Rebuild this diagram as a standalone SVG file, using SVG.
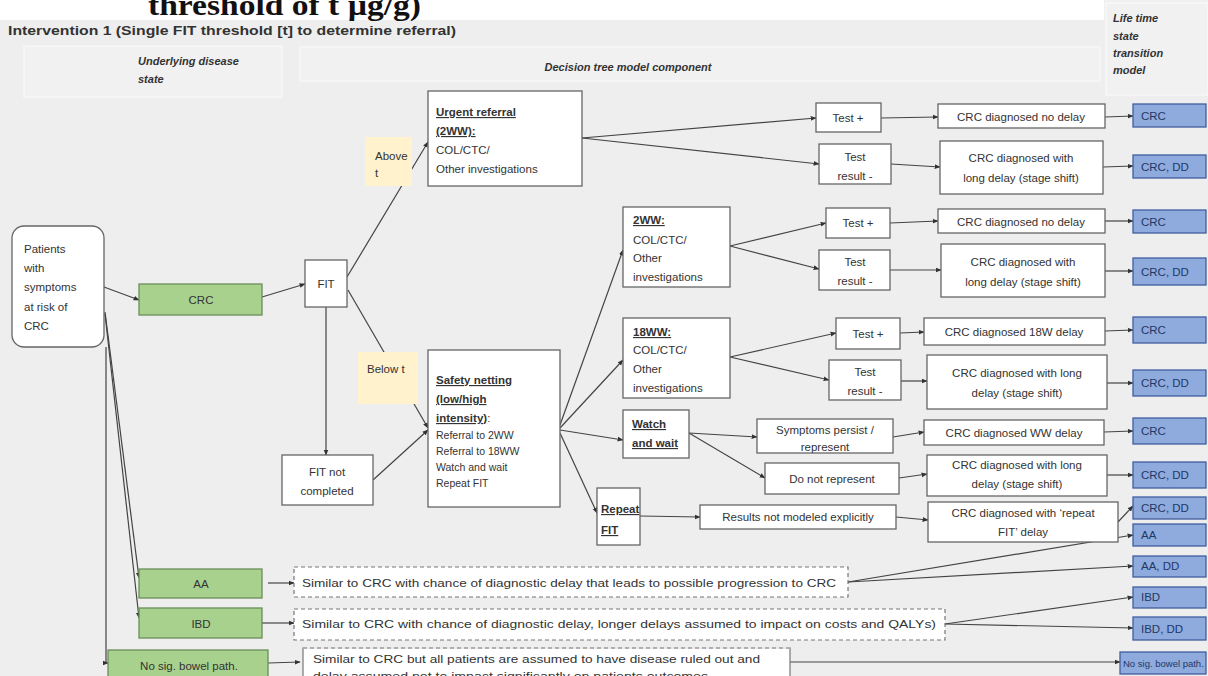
<svg xmlns="http://www.w3.org/2000/svg" width="1208" height="676" viewBox="0 0 1208 676">
<defs>
<marker id="ah" viewBox="0 0 10 10" refX="9" refY="5" markerWidth="6" markerHeight="6" orient="auto" markerUnits="userSpaceOnUse"><path d="M0,1 L10,5 L0,9 z" fill="#333"/></marker>
<style>
.t{font-family:"Liberation Sans",Arial,sans-serif;font-size:11.5px;fill:#333}
.s{font-size:10.5px}
.c{text-anchor:middle}
.b{font-weight:bold;text-decoration:underline}
.h{font-family:"Liberation Sans",Arial,sans-serif;font-size:11px;font-style:italic;font-weight:bold;fill:#333}
.box{fill:#fff;stroke:#666;stroke-width:1.3}
.dash{fill:#fff;stroke:#777;stroke-width:1.2;stroke-dasharray:4 3}
.green{fill:#a9d18e;stroke:#6b8e5a;stroke-width:1.3}
.blue{fill:#8faadc;stroke:#3f5f9f;stroke-width:1.3}
.bt{font-family:"Liberation Sans",Arial,sans-serif;font-size:11.5px;fill:#1f3864}
.yel{fill:#fff2cc}
.panel{fill:#f1f1f1;stroke:#f7f7f7;stroke-width:1.5}
.conn path{stroke:#444;stroke-width:1.2;fill:none;marker-end:url(#ah)}
</style>
</defs>
<rect x="0" y="0" width="1208" height="676" fill="#ffffff"/>
<rect x="0" y="20" width="1208" height="656" fill="#eeeeee"/>
<rect x="1104" y="0" width="104" height="20" fill="#f0f0f0"/>
<text x="148" y="15" font-family="Liberation Serif,Times New Roman,serif" font-size="30" font-weight="bold" fill="#111" textLength="273" lengthAdjust="spacingAndGlyphs">threshold of t µg/g)</text>
<text x="8" y="35" font-family="Liberation Sans,Arial,sans-serif" font-size="12.5" font-weight="bold" fill="#333" textLength="448" lengthAdjust="spacingAndGlyphs">Intervention 1 (Single FIT threshold [t] to determine referral)</text>

<g id="headers">
<rect class="panel" x="24" y="46" width="258" height="51"/>
<rect class="panel" x="300" y="47" width="800" height="34"/>
<rect class="panel" x="1106" y="3" width="102" height="92"/>
<text class="h" x="138" y="65">Underlying disease</text>
<text class="h" x="138" y="83">state</text>
<text class="h" x="628" y="71" text-anchor="middle">Decision tree model component</text>
<text class="h" x="1113" y="22">Life time</text>
<text class="h" x="1113" y="40">state</text>
<text class="h" x="1113" y="57">transition</text>
<text class="h" x="1113" y="74">model</text>
</g>

<g id="connectors" class="conn">
<path d="M104,287 L139,300"/>
<path d="M105,312 L139,578"/>
<path d="M105,314 L139,618"/>
<path d="M106,347 L106,663 L108,663"/>
<path d="M262,297 L305,284"/>
<path d="M347,277 L428,142"/>
<path d="M348,290 L428,428"/>
<path d="M326,307 L326,455"/>
<path d="M373,480 L428,430"/>
<path d="M582,138 L816,118"/>
<path d="M582,138 L819,164"/>
<path d="M881,118 L938,117"/>
<path d="M891,164 L940,167"/>
<path d="M1105,117 L1133,116"/>
<path d="M1103,167 L1133,166"/>
<path d="M560,425 L623,250"/>
<path d="M560,428 L623,360"/>
<path d="M560,430 L623,440"/>
<path d="M560,433 L597,513"/>
<path d="M730,246 L826,223"/>
<path d="M730,246 L819,269"/>
<path d="M890,223 L938,221"/>
<path d="M890,270 L941,270"/>
<path d="M1105,221 L1133,221"/>
<path d="M1105,271 L1133,271"/>
<path d="M730,357 L836,333"/>
<path d="M730,357 L829,380"/>
<path d="M900,333 L924,332"/>
<path d="M901,381 L927,381"/>
<path d="M1105,331 L1133,330"/>
<path d="M1107,383 L1133,383"/>
<path d="M689,433 L757,437"/>
<path d="M689,433 L765,478"/>
<path d="M893,437 L924,432"/>
<path d="M899,478 L927,474"/>
<path d="M1104,432 L1133,431"/>
<path d="M1107,475 L1133,475"/>
<path d="M640,516 L700,517"/>
<path d="M896,517 L928,520"/>
<path d="M1118,522 L1133,506"/>
<path d="M848,582 L1133,535"/>
<path d="M848,582 L1133,566"/>
<path d="M945,624 L1133,597"/>
<path d="M945,624 L1133,628"/>
<path d="M268,583 L294,583"/>
<path d="M262,623 L294,623"/>
<path d="M268,663 L300,662"/>
<path d="M790,662 L1120,662"/>
</g>

<g id="label-above"><rect class="yel" x="365" y="137" width="47" height="49"/><text class="t" x="375" y="160">Above</text><text class="t" x="375" y="177">t</text></g>
<g id="label-below"><rect class="yel" x="358" y="352" width="60" height="52"/><text class="t" x="367" y="373">Below t</text></g>

<g id="patients"><rect class="box" x="12" y="226" width="92" height="121" rx="12"/>
<text class="t" x="24" y="253">Patients</text><text class="t" x="24" y="272">with</text><text class="t" x="24" y="291">symptoms</text><text class="t" x="24" y="311">at risk of</text><text class="t" x="24" y="330">CRC</text></g>

<g id="crc-green"><rect class="green" x="139" y="284" width="123" height="31"/><text class="t c" x="201" y="304">CRC</text></g>
<g id="aa-green"><rect class="green" x="139" y="569" width="123" height="29"/><text class="t c" x="201" y="588">AA</text></g>
<g id="ibd-green"><rect class="green" x="139" y="608" width="123" height="30"/><text class="t c" x="201" y="628">IBD</text></g>
<g id="nosig-green"><rect class="green" x="108" y="650" width="160" height="30"/><text class="t c" x="189" y="670">No sig. bowel path.</text></g>

<g id="fit"><rect class="box" x="305" y="260" width="42" height="47"/><text class="t c" x="326" y="288">FIT</text></g>
<g id="fit-not"><rect class="box" x="282" y="455" width="91" height="50"/><text class="t c" x="327" y="476">FIT not</text><text class="t c" x="327" y="495">completed</text></g>

<g id="urgent"><rect class="box" x="428" y="91" width="154" height="95"/>
<text class="t b" x="436" y="116">Urgent referral</text><text class="t b" x="436" y="135">(2WW):</text><text class="t" x="436" y="154">COL/CTC/</text><text class="t" x="436" y="173">Other investigations</text></g>

<g id="safety"><rect class="box" x="428" y="350" width="132" height="157"/>
<text class="t b" x="436" y="384">Safety netting</text><text class="t b" x="436" y="403">(low/high</text><text class="t" x="436" y="422"><tspan font-weight="bold" text-decoration="underline">intensity)</tspan>:</text>
<text class="t s" x="436" y="439">Referral to 2WW</text><text class="t s" x="436" y="455">Referral to 18WW</text><text class="t s" x="436" y="471">Watch and wait</text><text class="t s" x="436" y="487">Repeat FIT</text></g>

<g id="b2ww"><rect class="box" x="623" y="207" width="107" height="80"/>
<text class="t b" x="633" y="224">2WW:</text><text class="t" x="633" y="244">COL/CTC/</text><text class="t" x="633" y="262">Other</text><text class="t" x="633" y="281">investigations</text></g>
<g id="b18ww"><rect class="box" x="623" y="318" width="107" height="80"/>
<text class="t b" x="633" y="336">18WW:</text><text class="t" x="633" y="354">COL/CTC/</text><text class="t" x="633" y="373">Other</text><text class="t" x="633" y="392">investigations</text></g>
<g id="watch"><rect class="box" x="623" y="410" width="66" height="48"/>
<text class="t b" x="632" y="428">Watch</text><text class="t b" x="632" y="447">and wait</text></g>
<g id="repeat"><rect class="box" x="597" y="488" width="43" height="57"/>
<text class="t b" x="601" y="513">Repeat</text><text class="t b" x="601" y="534">FIT</text></g>

<g id="tp1"><rect class="box" x="816" y="103" width="65" height="29"/><text class="t c" x="848" y="122">Test +</text></g>
<g id="tm1"><rect class="box" x="819" y="144" width="72" height="40"/><text class="t c" x="855" y="161">Test</text><text class="t c" x="855" y="180">result -</text></g>
<g id="d1"><rect class="box" x="938" y="104" width="167" height="24"/><text class="t c" x="1021" y="121">CRC diagnosed no delay</text></g>
<g id="l1"><rect class="box" x="940" y="141" width="163" height="53"/><text class="t c" x="1021" y="162">CRC diagnosed with</text><text class="t c" x="1021" y="182">long delay (stage shift)</text></g>

<g id="tp2"><rect class="box" x="826" y="208" width="64" height="30"/><text class="t c" x="858" y="227">Test +</text></g>
<g id="tm2"><rect class="box" x="819" y="250" width="71" height="40"/><text class="t c" x="855" y="266">Test</text><text class="t c" x="855" y="285">result -</text></g>
<g id="d2"><rect class="box" x="938" y="209" width="167" height="24"/><text class="t c" x="1021" y="226">CRC diagnosed no delay</text></g>
<g id="l2"><rect class="box" x="941" y="244" width="164" height="53"/><text class="t c" x="1023" y="266">CRC diagnosed with</text><text class="t c" x="1023" y="286">long delay (stage shift)</text></g>

<g id="tp3"><rect class="box" x="836" y="318" width="64" height="31"/><text class="t c" x="868" y="338">Test +</text></g>
<g id="tm3"><rect class="box" x="829" y="360" width="72" height="40"/><text class="t c" x="865" y="376">Test</text><text class="t c" x="865" y="395">result -</text></g>
<g id="d3"><rect class="box" x="924" y="318" width="181" height="27"/><text class="t c" x="1014" y="336">CRC diagnosed 18W delay</text></g>
<g id="l3"><rect class="box" x="927" y="355" width="180" height="54"/><text class="t c" x="1017" y="377">CRC diagnosed with long</text><text class="t c" x="1017" y="397">delay (stage shift)</text></g>

<g id="persist"><rect class="box" x="757" y="419" width="136" height="34"/><text class="t c" x="825" y="434">Symptoms persist /</text><text class="t c" x="825" y="451">represent</text></g>
<g id="notrep"><rect class="box" x="765" y="463" width="134" height="31"/><text class="t c" x="832" y="483">Do not represent</text></g>
<g id="d4"><rect class="box" x="924" y="420" width="180" height="25"/><text class="t c" x="1014" y="437">CRC diagnosed WW delay</text></g>
<g id="l4"><rect class="box" x="927" y="455" width="180" height="41"/><text class="t c" x="1017" y="469">CRC diagnosed with long</text><text class="t c" x="1017" y="488">delay (stage shift)</text></g>

<g id="notmod"><rect class="box" x="700" y="505" width="196" height="24"/><text class="t c" x="798" y="521">Results not modeled explicitly</text></g>
<g id="drep"><rect class="box" x="928" y="502" width="190" height="40"/><text class="t c" x="1023" y="517">CRC diagnosed with ‘repeat</text><text class="t c" x="1023" y="536">FIT’ delay</text></g>

<g id="aa-dash"><rect class="dash" x="294" y="567" width="554" height="30"/><text class="t" x="302" y="587" textLength="534" lengthAdjust="spacingAndGlyphs">Similar to CRC with chance of diagnostic delay that leads to possible progression to CRC</text></g>
<g id="ibd-dash"><rect class="dash" x="294" y="609" width="651" height="31"/><text class="t" x="302" y="628" textLength="634" lengthAdjust="spacingAndGlyphs">Similar to CRC with chance of diagnostic delay, longer delays assumed to impact on costs and QALYs)</text></g>
<g id="nosig-box"><rect x="303" y="648" width="487" height="40" fill="#fff" stroke="#777" stroke-width="1.2"/><path d="M303,648 L790,648" stroke="#fff" stroke-width="1.4"/><path d="M303,648 L790,648" stroke="#777" stroke-width="1.2" stroke-dasharray="4 3"/>
<text class="t" x="313" y="663" textLength="447" lengthAdjust="spacingAndGlyphs">Similar to CRC but all patients are assumed to have disease ruled out and</text>
<text class="t" x="313" y="680" textLength="395" lengthAdjust="spacingAndGlyphs">delay assumed not to impact significantly on patients outcomes</text></g>

<g id="blue1"><rect class="blue" x="1133" y="104" width="73" height="23"/><text class="bt" x="1141" y="120">CRC</text></g>
<g id="blue2"><rect class="blue" x="1133" y="155" width="73" height="23"/><text class="bt" x="1141" y="171">CRC, DD</text></g>
<g id="blue3"><rect class="blue" x="1133" y="210" width="73" height="23"/><text class="bt" x="1141" y="226">CRC</text></g>
<g id="blue4"><rect class="blue" x="1133" y="258" width="73" height="27"/><text class="bt" x="1141" y="276">CRC, DD</text></g>
<g id="blue5"><rect class="blue" x="1133" y="317" width="73" height="26"/><text class="bt" x="1141" y="334">CRC</text></g>
<g id="blue6"><rect class="blue" x="1133" y="370" width="73" height="26"/><text class="bt" x="1141" y="387">CRC, DD</text></g>
<g id="blue7"><rect class="blue" x="1133" y="418" width="73" height="26"/><text class="bt" x="1141" y="435">CRC</text></g>
<g id="blue8"><rect class="blue" x="1133" y="462" width="73" height="26"/><text class="bt" x="1141" y="479">CRC, DD</text></g>
<g id="blue9"><rect class="blue" x="1133" y="497" width="73" height="22"/><text class="bt" x="1141" y="512">CRC, DD</text></g>
<g id="blue10"><rect class="blue" x="1133" y="524" width="73" height="22"/><text class="bt" x="1141" y="539">AA</text></g>
<g id="blue11"><rect class="blue" x="1133" y="556" width="73" height="21"/><text class="bt" x="1141" y="570">AA, DD</text></g>
<g id="blue12"><rect class="blue" x="1133" y="587" width="73" height="21"/><text class="bt" x="1141" y="601">IBD</text></g>
<g id="blue13"><rect class="blue" x="1133" y="617" width="73" height="23"/><text class="bt" x="1141" y="633">IBD, DD</text></g>
<g id="blue14"><rect class="blue" x="1120" y="652" width="86" height="22"/><text class="bt" x="1123" y="667" font-size="9.5" style="font-size:9.5px">No sig. bowel path.</text></g>
</svg>
